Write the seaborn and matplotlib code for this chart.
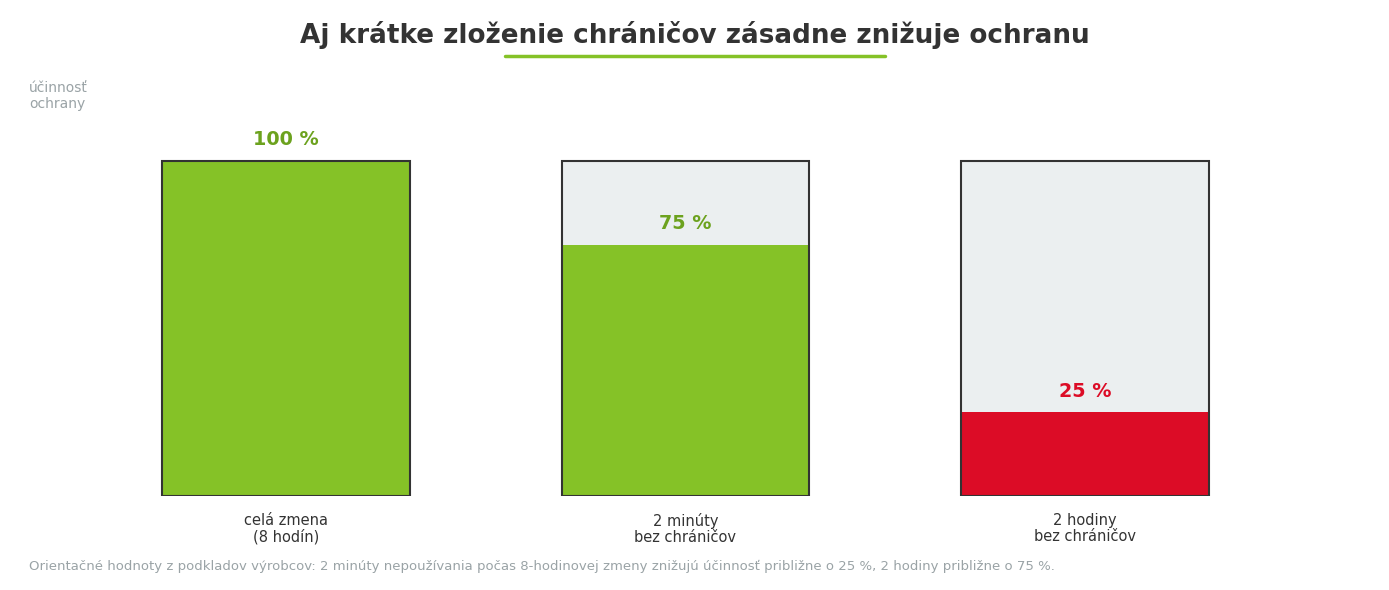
import matplotlib
matplotlib.use("Agg")
import matplotlib.pyplot as plt
import pandas as pd
import seaborn as sns

# data
kategorie = ["celá zmena\n(8 hodín)", "2 minúty\nbez chráničov", "2 hodiny\nbez chráničov"]
ucinnost = [100, 75, 25]
maximum = [100, 100, 100]
popisky = ["100 %", "75 %", "25 %"]
farby_stlpcov = ["#85c227", "#85c227", "#dc0c26"]
farby_popisov = ["#6ca21e", "#6ca21e", "#dc0c26"]

titulok = "Aj krátke zloženie chráničov zásadne znižuje ochranu"
os_y = "účinnosť\nochrany"
poznamka = ("Orientačné hodnoty z podkladov výrobcov: 2 minúty nepoužívania počas "
            "8-hodinovej zmeny znižujú účinnosť približne o 25 %, 2 hodiny približne o 75 %.")

df = pd.DataFrame({"kategoria": kategorie, "ucinnost": ucinnost, "maximum": maximum})

sns.set_style("white")
plt.rcParams["font.family"] = ["DejaVu Sans"]

fig = plt.figure(figsize=(13.89, 5.9), dpi=100)
ax = fig.add_axes([46.3 / 1389, 94 / 590, (1324.7 - 46.3) / 1389, 368.5 / 590])

# sive pozadie (plna ochrana)
sns.barplot(data=df, x="kategoria", y="maximum", color="#ebeff0", width=0.62,
            saturation=1, linewidth=0, ax=ax)
# skutocna ucinnost
sns.barplot(data=df, x="kategoria", y="ucinnost", hue="kategoria",
            palette=farby_stlpcov, width=0.62, saturation=1, legend=False,
            linewidth=0, ax=ax)
# obrys
sns.barplot(data=df, x="kategoria", y="maximum", fill=False, edgecolor="#333333",
            linewidth=1.5, width=0.62, ax=ax)

for i, (v, t, c) in enumerate(zip(ucinnost, popisky, farby_popisov)):
    ax.text(i, v + 6.3, t, ha="center", va="center", color=c,
            fontsize=13.8, fontweight="bold")

ax.set_xlim(-0.6, 2.6)
ax.set_ylim(0, 110)
ax.set_xlabel("")
ax.set_ylabel("")
ax.set_yticks([])
ax.tick_params(axis="x", length=0, pad=12.5, labelsize=10.5, labelcolor="#333333")
for lab in ax.get_xticklabels():
    lab.set_linespacing(1.05)
for s in ax.spines.values():
    s.set_visible(False)

fig.text(0.5, 1 - 35 / 590, titulok, ha="center", va="center", fontsize=18.9,
         fontweight="bold", color="#333333")
fig.add_artist(plt.Line2D([505 / 1389, 885 / 1389], [1 - 56 / 590, 1 - 56 / 590],
                          color="#85c227", linewidth=2.5))
fig.text(29 / 1389, 1 - 96 / 590, os_y, ha="left", va="center", fontsize=10,
         color="#9aa3a6", linespacing=1.1)
fig.text(29 / 1389, 1 - 566 / 590, poznamka, ha="left", va="center", fontsize=9.5,
         color="#9aa3a6")

fig.savefig("out.png", dpi=100, facecolor="white")
